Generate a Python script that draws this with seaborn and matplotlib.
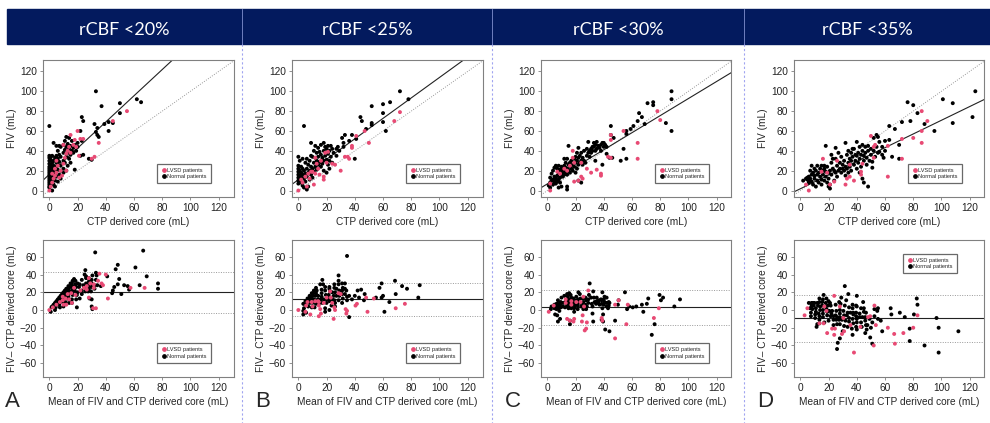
#Importing libraries
import pandas as pd
import numpy as np
import matplotlib
matplotlib.use("Agg")
import matplotlib.pyplot as plt
import seaborn as sns
from matplotlib.lines import Line2D
from matplotlib.patches import Rectangle

#Panel headers and letters
thresholds = ["rCBF <20%", "rCBF <25%", "rCBF <30%", "rCBF <35%"]
panel_letters = ["A", "B", "C", "D"]
group_labels = ["LVSD patients", "Normal patients"]

#(CTP derived core, FIV) pairs, one list per threshold and group
lvsd_20 = [(0, 0), (1, 4), (2, 8), (2, 17), (3, 12), (4, 22), (4, 15), (5, 30), (5, 18), (6, 25),
           (7, 13), (8, 20), (9, 15), (10, 27), (10, 46), (11, 33), (12, 37), (12, 20), (13, 40),
           (14, 44), (15, 56), (15, 38), (17, 46), (18, 51), (19, 44), (20, 60), (21, 35), (22, 52),
           (24, 52), (30, 32), (32, 34), (35, 48), (45, 70), (55, 80)]
normal_20 = [(0, 65), (0, 35), (0, 33), (0, 30), (0, 27), (0, 24), (0, 22), (0, 20), (0, 18), (0, 16),
             (0, 14), (0, 12), (0, 10), (0, 8), (0, 6), (0, 4), (0, 3), (1, 34), (1, 31), (1, 26),
             (1, 21), (1, 17), (1, 13), (1, 9), (1, 5), (2, 35), (2, 28), (2, 23), (2, 19), (2, 15),
             (2, 11), (2, 7), (2, 0), (3, 48), (3, 30), (3, 25), (3, 20), (3, 12), (3, 6), (4, 33),
             (4, 22), (4, 17), (4, 10), (4, 4), (5, 45), (5, 35), (5, 28), (5, 24), (5, 19), (5, 14),
             (6, 40), (6, 32), (6, 26), (6, 21), (6, 9), (7, 45), (7, 36), (7, 29), (7, 16), (8, 44),
             (8, 34), (8, 25), (8, 20), (8, 12), (10, 46), (10, 38), (10, 30), (10, 22), (10, 18),
             (11, 50), (11, 41), (11, 28), (12, 54), (12, 44), (12, 34), (12, 20), (13, 47), (13, 38),
             (13, 25), (14, 53), (14, 42), (14, 32), (15, 45), (15, 36), (15, 28), (16, 40), (16, 50),
             (17, 43), (17, 38), (18, 21), (18, 46), (19, 40), (20, 44), (20, 48), (22, 60), (22, 35),
             (23, 74), (23, 50), (24, 70), (24, 36), (28, 32), (30, 31), (32, 67), (33, 100), (33, 59),
             (34, 63), (34, 56), (35, 54), (37, 85), (39, 67), (42, 69), (42, 60), (45, 68), (50, 88),
             (50, 78), (62, 92), (65, 89)]

lvsd_25 = [(0, 0), (2, 11), (3, 8), (5, 14), (6, 4), (7, 17), (8, 12), (9, 19), (10, 19), (11, 6),
           (12, 17), (12, 33), (13, 27), (14, 22), (15, 16), (16, 30), (18, 14), (18, 11), (19, 38),
           (20, 28), (21, 39), (24, 27), (26, 26), (30, 20), (33, 34), (35, 34), (36, 32), (38, 45),
           (38, 43), (41, 55), (47, 60), (50, 48), (68, 70), (72, 79)]
normal_25 = [(0, 34), (0, 25), (0, 22), (0, 19), (0, 16), (0, 13), (0, 10), (0, 7), (1, 30), (1, 20),
             (1, 15), (1, 11), (2, 24), (2, 18), (2, 13), (2, 8), (3, 32), (3, 22), (3, 16), (3, 5),
             (4, 65), (4, 20), (4, 12), (4, 3), (5, 28), (5, 17), (5, 9), (6, 32), (6, 22), (6, 14),
             (6, 1), (7, 26), (7, 18), (7, 4), (8, 30), (8, 20), (8, 11), (9, 48), (9, 35), (9, 24),
             (9, 16), (10, 34), (10, 22), (10, 13), (11, 40), (11, 28), (11, 19), (12, 45), (12, 33),
             (12, 24), (13, 38), (13, 30), (13, 21), (14, 43), (14, 34), (14, 26), (15, 39), (15, 29),
             (16, 46), (16, 36), (16, 24), (17, 33), (17, 27), (18, 48), (18, 40), (18, 30), (18, 20),
             (19, 44), (19, 35), (20, 42), (20, 31), (20, 18), (21, 45), (21, 37), (21, 26), (22, 40),
             (22, 30), (22, 22), (23, 45), (23, 34), (24, 42), (24, 28), (25, 38), (27, 35), (27, 42),
             (28, 44), (29, 40), (31, 53), (32, 48), (32, 44), (33, 56), (36, 50), (38, 56), (40, 32),
             (41, 52), (44, 74), (45, 70), (48, 62), (52, 85), (52, 68), (52, 66), (60, 87), (60, 78),
             (60, 69), (62, 60), (65, 89), (72, 100), (78, 92)]

lvsd_30 = [(2, 0), (2, 7), (7, 19), (9, 17), (12, 22), (14, 20), (16, 25), (18, 33), (18, 40), (19, 9),
           (19, 28), (22, 10), (24, 14), (24, 28), (25, 12), (28, 22), (31, 18), (35, 21), (38, 15),
           (38, 17), (43, 34), (45, 33), (45, 51), (45, 56), (54, 60), (64, 48), (64, 32), (78, 80),
           (80, 71)]
normal_30 = [(1, 5), (2, 3), (2, 8), (2, 13), (3, 10), (3, 17), (4, 6), (4, 11), (4, 20), (5, 8),
             (5, 14), (5, 23), (5, 10), (6, 7), (6, 12), (6, 25), (7, 9), (7, 15), (7, 22), (8, 3),
             (8, 11), (8, 25), (8, 18), (9, 8), (9, 21), (9, 13), (10, 4), (10, 17), (10, 24), (10, 20),
             (11, 14), (11, 22), (11, 19), (12, 20), (12, 25), (12, 32), (12, 16), (13, 18), (13, 23),
             (13, 28), (14, 1), (14, 4), (14, 16), (14, 32), (14, 22), (15, 45), (15, 20), (15, 26),
             (16, 18), (16, 28), (16, 24), (17, 22), (17, 30), (18, 26), (18, 20), (19, 24), (19, 32),
             (20, 28), (20, 18), (20, 34), (21, 22), (21, 30), (21, 38), (22, 43), (22, 33), (22, 26),
             (22, 10), (23, 35), (23, 28), (24, 30), (24, 38), (24, 8), (25, 33), (25, 26), (26, 40),
             (26, 30), (27, 28), (28, 35), (28, 42), (29, 49), (29, 38), (30, 40), (30, 34), (31, 42),
             (31, 38), (32, 44), (32, 40), (33, 44), (33, 48), (34, 30), (34, 40), (34, 46), (35, 49),
             (35, 42), (36, 45), (37, 43), (38, 46), (38, 40), (39, 26), (39, 48), (40, 44), (40, 48),
             (41, 46), (42, 37), (42, 44), (44, 33), (45, 65), (45, 56), (46, 33), (47, 53), (52, 30),
             (54, 42), (56, 60), (56, 57), (56, 32), (59, 62), (61, 65), (64, 70), (65, 78), (67, 74),
             (69, 67), (71, 88), (75, 89), (75, 86), (84, 68), (88, 100), (88, 92), (88, 60)]

lvsd_35 = [(4, 6), (6, 0), (15, 19), (16, 32), (19, 18), (21, 6), (24, 9), (26, 30), (32, 6), (33, 12),
           (35, 14), (35, 26), (38, 10), (43, 16), (43, 19), (44, 27), (50, 55), (52, 33), (52, 44),
           (53, 46), (62, 45), (62, 14), (72, 32), (72, 52), (80, 53), (86, 48), (86, 60), (86, 80),
           (90, 70)]
normal_35 = [(2, 10), (4, 12), (5, 11), (5, 13), (6, 8), (6, 14), (6, 10), (7, 20), (7, 12), (8, 25),
             (8, 16), (8, 9), (9, 18), (9, 6), (10, 12), (10, 22), (10, 15), (11, 20), (11, 4), (12, 10),
             (12, 16), (12, 25), (13, 18), (13, 8), (14, 14), (14, 22), (15, 11), (15, 25), (15, 6),
             (16, 20), (16, 16), (17, 10), (17, 22), (17, 25), (18, 45), (18, 14), (18, 19), (19, 8),
             (19, 24), (20, 18), (20, 12), (20, 4), (21, 2), (21, 6), (21, 20), (22, 36), (22, 16),
             (22, 28), (23, 32), (23, 22), (24, 20), (24, 10), (25, 43), (25, 32), (25, 18), (26, 25),
             (26, 14), (27, 38), (27, 20), (28, 22), (28, 28), (29, 18), (29, 34), (30, 22), (30, 26),
             (31, 20), (31, 30), (32, 48), (32, 24), (32, 15), (33, 22), (33, 36), (34, 18), (34, 28),
             (34, 40), (35, 24), (35, 32), (36, 30), (36, 38), (36, 20), (37, 34), (37, 42), (38, 42),
             (38, 26), (39, 30), (39, 36), (40, 49), (40, 22), (40, 35), (41, 28), (41, 38), (42, 32),
             (42, 18), (42, 44), (43, 36), (43, 24), (44, 46), (44, 40), (44, 12), (45, 30), (45, 35),
             (45, 8), (46, 38), (46, 44), (47, 26), (47, 33), (48, 4), (48, 40), (48, 45), (49, 30),
             (50, 36), (50, 42), (51, 23), (51, 29), (52, 53), (52, 40), (53, 34), (54, 56), (54, 44),
             (55, 54), (55, 38), (56, 49), (56, 39), (58, 36), (58, 44), (59, 33), (60, 50), (60, 40),
             (63, 65), (63, 51), (65, 34), (67, 62), (70, 46), (70, 32), (72, 69), (76, 89), (78, 70),
             (80, 86), (83, 78), (88, 67), (95, 60), (101, 92), (108, 88), (108, 68), (122, 74),
             (124, 100)]

lvsd_sets = [lvsd_20, lvsd_25, lvsd_30, lvsd_35]
normal_sets = [normal_20, normal_25, normal_30, normal_35]

#Regression lines (FIV vs CTP)
fit_slope = [1.32, 1.03, 0.86, 0.69]
fit_intercept = [16.3, 10.9, 6.7, 1.8]

ba_bias = [20.0, 12.2, 3.3, -9.3]
ba_upper = [42.5, 31.0, 22.5, 17.0]
ba_lower = [-3.4, -6.8, -16.5, -36.0]

pink = "#e84a74"
navy = "#031a5e"
palette = {"LVSD patients": pink, "Normal patients": "black"}

sns.set_theme(style="white")
plt.rcParams["font.family"] = ["Liberation Sans", "DejaVu Sans"]

W, H = 990, 423
fig = plt.figure(figsize=(W / 100, H / 100), dpi=100)


def px_axes(left, top, right, bottom):
    return fig.add_axes([left / W, 1 - bottom / H, (right - left) / W, (bottom - top) / H])


def style_axes(ax):
    for sp in ax.spines.values():
        sp.set_color("#808080")
        sp.set_linewidth(0.8)
    ax.tick_params(axis="both", labelsize=7.3, length=2.5, width=0.6, color="#808080",
                   pad=2, bottom=True, left=True, labelcolor="#222222")
    ax.set_xlim(-4.5, 130.5)
    ax.set_xticks(range(0, 121, 20))


def add_legend(ax, loc, anchor):
    handles = [Line2D([], [], marker="o", ls="", color=palette[g], markersize=2.4) for g in group_labels]
    leg = ax.legend(handles, group_labels, loc=loc, bbox_to_anchor=anchor, fontsize=4.1,
                    frameon=True, fancybox=False, edgecolor="#444444", borderpad=0.7,
                    handletextpad=0.1, handlelength=1.0, labelspacing=0.25, borderaxespad=0)
    leg.get_frame().set_linewidth(0.9)


def make_frame(pairs, group):
    arr = np.array(pairs, dtype=float)
    return pd.DataFrame({"ctp": arr[:, 0], "fiv": arr[:, 1], "group": group})


#Header band
fig.patches.append(Rectangle((7 / W, 1 - 44 / H), (W - 7) / W, 35 / H,
                             transform=fig.transFigure, color=navy, zorder=0))
cell_centers = [124.5, 367, 618, 867]
for i, label in enumerate(thresholds):
    fig.text(cell_centers[i] / W, 1 - 35 / H, label, color="white", fontsize=13,
             ha="center", va="baseline", family=["Lato", "DejaVu Sans"])

#Separators between panels
for xs in [242, 492, 744]:
    fig.lines.append(Line2D([xs / W, xs / W], [1 - 9 / H, 1 - 44 / H], transform=fig.transFigure,
                            color="#7080c0", lw=0.7))
    fig.lines.append(Line2D([xs / W, xs / W], [1 - 44 / H, 0], transform=fig.transFigure,
                            color="#a0a4f0", lw=0.8, ls=(0, (2, 2))))

lefts = [43, 292, 541, 794]
letter_x = [5, 255, 505, 757]

for i in range(4):
    df = pd.concat([make_frame(normal_sets[i], "Normal patients"),
                    make_frame(lvsd_sets[i], "LVSD patients")], ignore_index=True)
    df["mean"] = (df["ctp"] + df["fiv"]) / 2
    df["diff"] = df["fiv"] - df["ctp"]

    #Top row: FIV against CTP derived core
    ax = px_axes(lefts[i], 60, lefts[i] + 190.5, 197)
    ax.axline((0, 0), slope=1, color="#999999", lw=0.7, ls=(0, (1, 1.5)), zorder=1)
    ax.axline((0, fit_intercept[i]), slope=fit_slope[i], color="#222222", lw=0.8, zorder=1)
    sns.scatterplot(data=df, x="ctp", y="fiv", hue="group", palette=palette,
                    s=8, linewidth=0, legend=False, ax=ax, zorder=3)
    style_axes(ax)
    ax.set_ylim(-6.5, 131.5)
    ax.set_yticks(range(0, 121, 20))
    ax.set_xlabel("CTP derived core (mL)", fontsize=7.3, labelpad=3)
    ax.set_ylabel("FIV (mL)", fontsize=7.3, labelpad=2)
    add_legend(ax, "lower right", (0.88, 0.1))

    #Bottom row: Bland-Altman
    ax = px_axes(lefts[i], 240, lefts[i] + 190.5, 376.5)
    ax.axhline(ba_bias[i], color="#222222", lw=0.8, zorder=1)
    ax.axhline(ba_upper[i], color="#999999", lw=0.7, ls=(0, (1, 1.5)), zorder=1)
    ax.axhline(ba_lower[i], color="#999999", lw=0.7, ls=(0, (1, 1.5)), zorder=1)
    sns.scatterplot(data=df, x="mean", y="diff", hue="group", palette=palette,
                    s=8, linewidth=0, legend=False, ax=ax, zorder=3)
    style_axes(ax)
    ax.set_ylim(-75, 79)
    ax.set_yticks(range(-60, 61, 20))
    ax.set_xlabel("Mean of FIV and CTP derived core (mL)", fontsize=7.3, labelpad=3)
    ax.set_ylabel("FIV\u2013 CTP derived core (mL)", fontsize=7.3, labelpad=2)
    if i == 3:
        add_legend(ax, "upper right", (0.855, 0.9))
    else:
        add_legend(ax, "lower right", (0.88, 0.1))

    fig.text(letter_x[i] / W, 1 - 407 / H, panel_letters[i], fontsize=16,
             ha="left", va="baseline")

fig.savefig("out.png", dpi=100)
